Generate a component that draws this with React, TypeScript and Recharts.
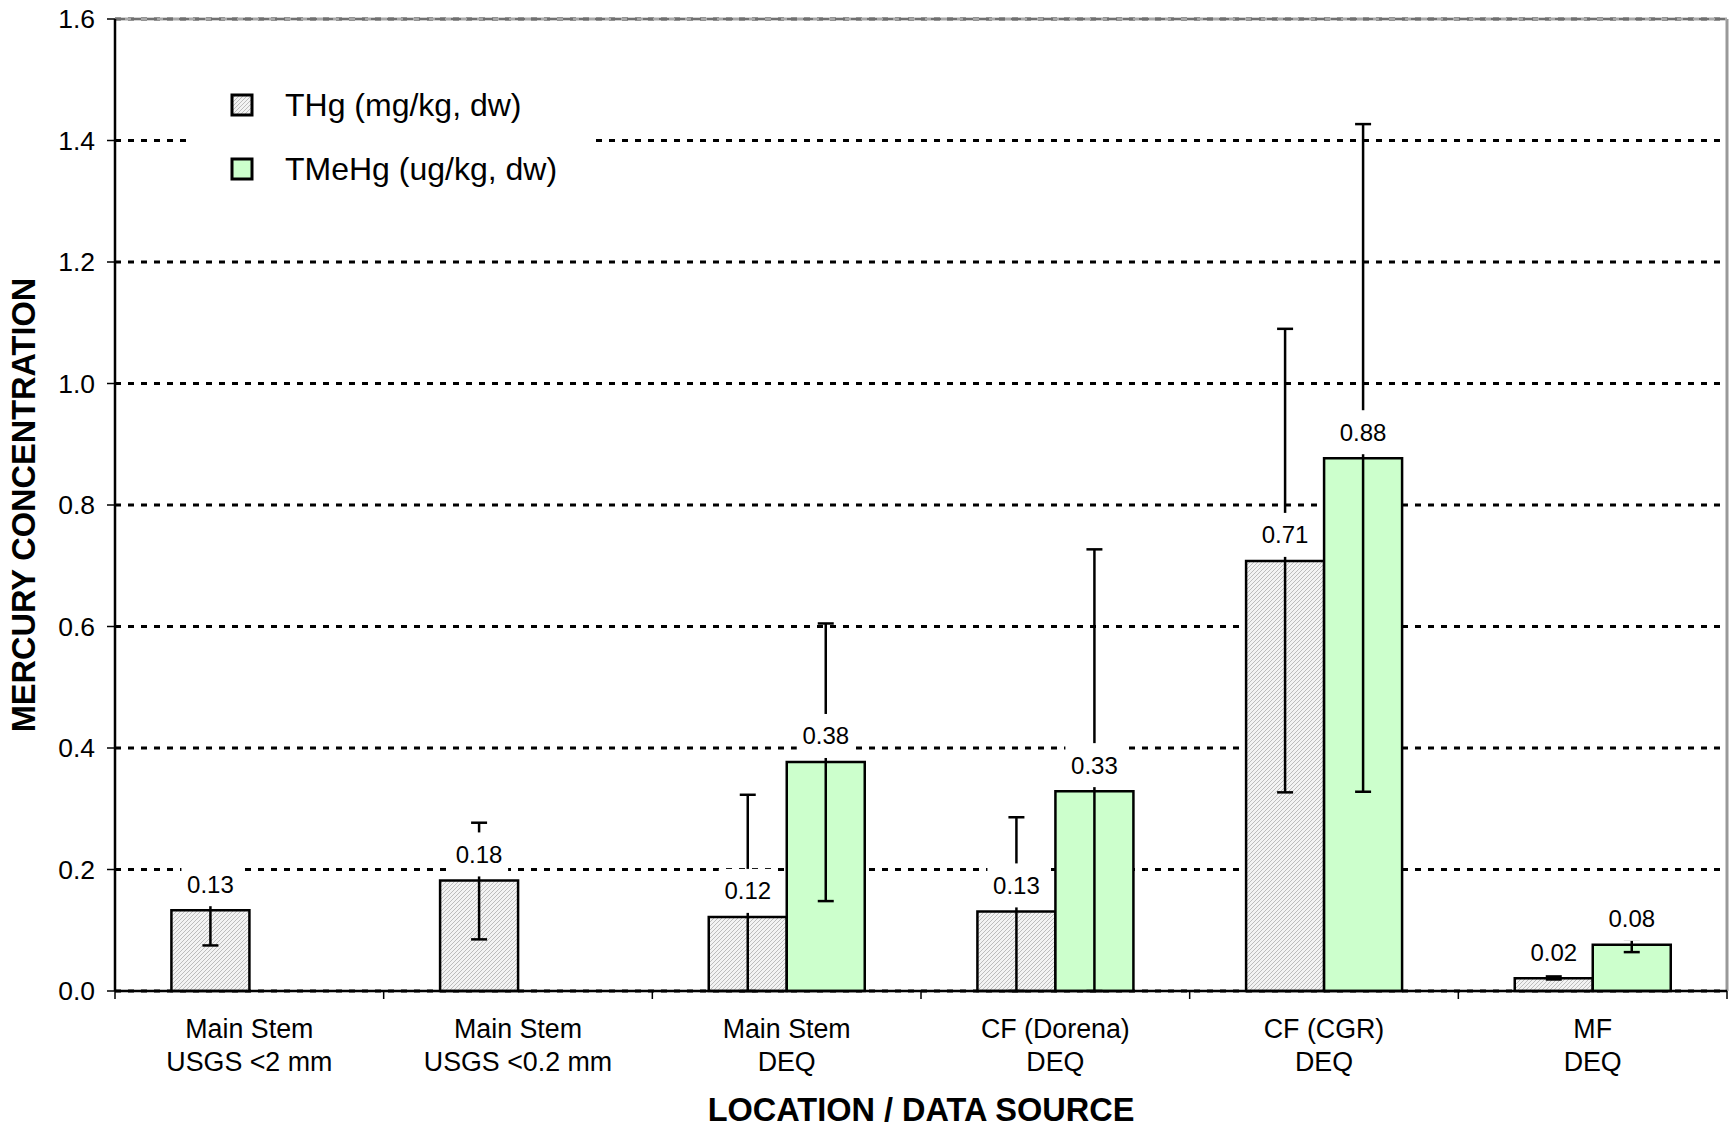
import React from 'react';
import {
  BarChart,
  Bar,
  XAxis,
  YAxis,
  CartesianGrid,
  ErrorBar,
  LabelList,
  Legend,
  ReferenceLine,
  Label,
} from 'recharts';

// ---------- data ----------
const categoryLine1 = ['Main Stem', 'Main Stem', 'Main Stem', 'CF (Dorena)', 'CF (CGR)', 'MF'];
const categoryLine2 = ['USGS <2 mm', 'USGS <0.2 mm', 'DEQ', 'DEQ', 'DEQ', 'DEQ'];
const seriesNames = ['THg (mg/kg, dw)', 'TMeHg (ug/kg, dw)'];
const thgValues: (number | null)[] = [0.133, 0.182, 0.122, 0.131, 0.708, 0.021];
const tmehgValues: (number | null)[] = [null, null, 0.377, 0.329, 0.877, 0.076];
const thgLow: (number | null)[] = [0.075, 0.085, 0.0, 0.0, 0.327, 0.019];
const thgHigh: (number | null)[] = [0.16, 0.277, 0.323, 0.286, 1.09, 0.024];
const tmehgLow: (number | null)[] = [null, null, 0.148, 0.0, 0.328, 0.064];
const tmehgHigh: (number | null)[] = [null, null, 0.605, 0.727, 1.427, 0.085];
const yTicks = [0, 0.2, 0.4, 0.6, 0.8, 1.0, 1.2, 1.4, 1.6];
const yAxisTitle = 'MERCURY CONCENTRATION';
const xAxisTitle = 'LOCATION / DATA SOURCE';

const errPair = (v: number | null, lo: number | null, hi: number | null) =>
  v == null || lo == null || hi == null ? null : [v - lo, hi - v];

const data = categoryLine1.map((c, i) => ({
  name: `${c} ${categoryLine2[i]}`,
  thg: thgValues[i],
  tmehg: tmehgValues[i],
  thgErr: errPair(thgValues[i], thgLow[i], thgHigh[i]),
  tmehgErr: errPair(tmehgValues[i], tmehgLow[i], tmehgHigh[i]),
}));

// ---------- styles ----------
const FONT = '"Liberation Sans", Arial, Helvetica, sans-serif';
const fills: Record<string, string> = { thg: 'url(#thgHatch)', tmehg: '#ccffcc' };

const CategoryTick = (props: any) => {
  const { x, y, payload, index, visibleTicksCount } = props;
  const i = payload?.index ?? index;
  const half = payload?.offset ?? 134;
  const axisY = y - 10;
  const count = visibleTicksCount ?? categoryLine1.length;
  return (
    <g>
      <line x1={x - half} y1={axisY} x2={x - half} y2={axisY + 8} stroke="#000" strokeWidth={1.5} />
      {i === count - 1 && (
        <line x1={x + half} y1={axisY} x2={x + half} y2={axisY + 8} stroke="#000" strokeWidth={1.5} />
      )}
      <text x={x} y={y + 37} textAnchor="middle" fontSize={26.8} fontFamily={FONT} fill="#000">
        {categoryLine1[i]}
      </text>
      <text x={x} y={y + 70} textAnchor="middle" fontSize={26.8} fontFamily={FONT} fill="#000">
        {categoryLine2[i]}
      </text>
    </g>
  );
};

const ValueLabel = (props: any) => {
  const { x, y, width, value } = props;
  if (value == null) return null;
  const cx = Number(x) + Number(width) / 2;
  const cy = Number(y) - 26;
  return (
    <g>
      <rect x={cx - 29} y={cy - 22} width={58} height={44} fill="#fff" />
      <text x={cx} y={cy} dy="0.35em" textAnchor="middle" fontSize={24} fontFamily={FONT} fill="#000">
        {Number(value).toFixed(2)}
      </text>
    </g>
  );
};

const YTitle = (props: any) => {
  const vb = props.viewBox || { x: 0, y: 19, width: 115, height: 972 };
  const cx = vb.x + 24;
  const cy = vb.y + vb.height / 2;
  return (
    <text
      x={cx}
      y={cy}
      transform={`rotate(-90 ${cx} ${cy})`}
      textAnchor="middle"
      dominantBaseline="central"
      fontSize={32.5}
      fontWeight="bold"
      fontFamily={FONT}
      fill="#000"
    >
      {yAxisTitle}
    </text>
  );
};

const XTitle = (props: any) => {
  const vb = props.viewBox || { x: 115, y: 991, width: 1612, height: 136 };
  return (
    <text
      x={vb.x + vb.width / 2}
      y={vb.y + 130}
      textAnchor="middle"
      fontSize={32.5}
      fontWeight="bold"
      fontFamily={FONT}
      fill="#000"
    >
      {xAxisTitle}
    </text>
  );
};

const LegendContent = (props: any) => {
  const payload = props.payload || [];
  return (
    <div style={{ width: 401, height: 150, background: '#fff', position: 'relative', fontFamily: FONT }}>
      {payload.map((p: any, i: number) => (
        <div
          key={i}
          style={{
            position: 'absolute',
            left: 39,
            top: 45 + i * 64 - 18,
            height: 36,
            display: 'flex',
            alignItems: 'center',
            whiteSpace: 'nowrap',
          }}
        >
          <svg width={24} height={24} style={{ display: 'block' }}>
            <rect x={2} y={2} width={20} height={20} fill={fills[p.dataKey] || p.color} stroke="#000" strokeWidth={3} />
          </svg>
          <span style={{ marginLeft: 31, fontSize: 32, color: '#000', lineHeight: '36px' }}>{p.value}</span>
        </div>
      ))}
    </div>
  );
};

export default function App() {
  return (
    <div style={{ position: 'absolute', left: 0, top: 0, width: 1734, height: 1127, background: '#fff' }}>
      <BarChart
        width={1734}
        height={1127}
        data={data}
        margin={{ top: 19, right: 7, left: 0, bottom: 0 }}
        barCategoryGap="21%"
        barGap={0}
      >
        <defs>
          <pattern id="thgHatch" patternUnits="userSpaceOnUse" width="4" height="4">
            <rect width="4" height="4" fill="#f3f3f3" />
            <path d="M-1,1 l2,-2 M0,4 l4,-4 M3,5 l2,-2" stroke="#bcbcbc" strokeWidth="1" />
          </pattern>
        </defs>
        <CartesianGrid
          vertical={false}
          stroke="#000"
          strokeWidth={3}
          strokeDasharray="6 7"
        />
        <CartesianGrid
          horizontal={false}
          stroke="#999"
          strokeWidth={3}
          verticalCoordinatesGenerator={(args: any) => [args.offset.left + args.offset.width]}
        />
        <XAxis
          dataKey="name"
          height={136}
          interval={0}
          tickLine={false}
          tickSize={8}
          tickMargin={2}
          axisLine={{ stroke: '#000', strokeWidth: 2.5 }}
          tick={<CategoryTick />}
        >
          <Label content={<XTitle />} />
        </XAxis>
        <YAxis
          width={115}
          domain={[0, 1.6]}
          ticks={yTicks}
          interval={0}
          tickFormatter={(v: number) => v.toFixed(1)}
          tickSize={8}
          tickMargin={12}
          tickLine={{ stroke: '#000', strokeWidth: 1.5 }}
          axisLine={{ stroke: '#000', strokeWidth: 2.5 }}
          tick={{ fill: '#000', fontSize: 26.5, fontFamily: FONT }}
        >
          <Label content={<YTitle />} />
        </YAxis>
        <ReferenceLine y={1.6} stroke="#a8a8a8" strokeWidth={3} />
        <ReferenceLine y={1.6} stroke="#707070" strokeWidth={2} strokeDasharray="10 6" />
        <Legend
          layout="horizontal"
          verticalAlign="middle"
          align="center"
          wrapperStyle={{ left: 191, top: 60, width: 401, height: 150 }}
          content={<LegendContent />}
        />
        <Bar dataKey="thg" name={seriesNames[0]} fill={fills.thg} stroke="#000" strokeWidth={2.5} isAnimationActive={false}>
          <ErrorBar dataKey="thgErr" stroke="#000" strokeWidth={2.5} width={8} isAnimationActive={false} />
          <LabelList dataKey="thg" content={<ValueLabel />} />
        </Bar>
        <Bar dataKey="tmehg" name={seriesNames[1]} fill={fills.tmehg} stroke="#000" strokeWidth={2.5} isAnimationActive={false}>
          <ErrorBar dataKey="tmehgErr" stroke="#000" strokeWidth={2.5} width={8} isAnimationActive={false} />
          <LabelList dataKey="tmehg" content={<ValueLabel />} />
        </Bar>
      </BarChart>
    </div>
  );
}
